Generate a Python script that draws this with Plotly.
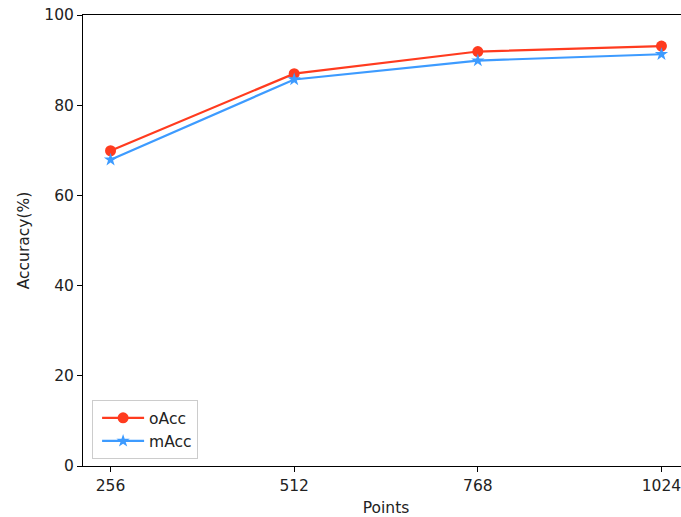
import plotly.graph_objects as go

points = [256, 512, 768, 1024]
oacc = [69.9, 87.0, 91.9, 93.1]
macc = [67.9, 85.7, 89.9, 91.3]
y_ticks = [0, 20, 40, 60, 80, 100]

fig = go.Figure()
fig.add_trace(go.Scatter(x=points, y=oacc, name="oAcc", mode="lines+markers",
                         line=dict(color="#FF3B1F", width=2.2),
                         marker=dict(symbol="circle", size=11, color="#FF3B1F")))
fig.add_trace(go.Scatter(x=points, y=macc, name="mAcc", mode="lines+markers",
                         line=dict(color="#3D9BFF", width=2.2),
                         marker=dict(symbol="star", size=10, color="#3D9BFF")))

FS = 15.5
axis_common = dict(showline=True, linecolor="black", linewidth=1, mirror=True,
                   ticks="outside", ticklen=5, tickcolor="black", tickwidth=1,
                   showgrid=False, zeroline=False, automargin=False,
                   tickfont=dict(family="DejaVu Sans", size=FS, color="#222"))

fig.update_layout(
    width=690, height=517,
    margin=dict(l=83, r=1, t=15, b=51, autoexpand=False),
    plot_bgcolor="white", paper_bgcolor="white",
    font=dict(family="DejaVu Sans", size=FS, color="#222"),
    xaxis=dict(range=[217.6, 1062.4], tickvals=points, ticktext=[str(p) for p in points],
               title=dict(text="Points", standoff=10, font=dict(size=FS)), **axis_common),
    yaxis=dict(range=[0, 100], tickvals=y_ticks,
               title=dict(text="Accuracy(%)", standoff=10, font=dict(size=FS)), **axis_common),
    legend=dict(x=0.015, y=0.015, xanchor="left", yanchor="bottom",
                bgcolor="white", bordercolor="#CCCCCC", borderwidth=1,
                indentation=4, itemwidth=42, font=dict(size=FS)),
    showlegend=True,
)

fig.write_html("out.html", config={"displayModeBar": False},
               post_script="document.body.style.margin='0';document.body.style.overflow='hidden';")
